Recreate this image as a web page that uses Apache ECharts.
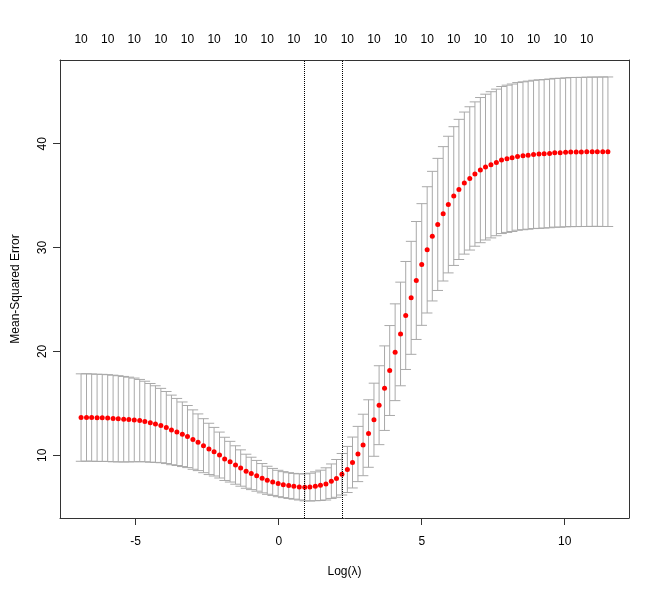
<!DOCTYPE html>
<html>
<head>
<meta charset="utf-8">
<script src="https://cdn.jsdelivr.net/npm/echarts@6/dist/echarts.min.js"></script>
<style>
  html,body{margin:0;padding:0;background:#fff;}
  #main{width:660px;height:593px;}
</style>
</head>
<body>
<div id="main"></div>
<script>
// log(lambda) grid, 100 lambdas
let logLambda=[-6.91,-6.72,-6.54,-6.35,-6.17,-5.98,-5.79,-5.61,-5.42,-5.24,
  -5.05,-4.86,-4.68,-4.49,-4.31,-4.12,-3.93,-3.75,-3.56,-3.37,
  -3.19,-3.00,-2.82,-2.63,-2.44,-2.26,-2.07,-1.89,-1.70,-1.51,
  -1.33,-1.14,-0.96,-0.77,-0.58,-0.40,-0.21,-0.02,0.16,0.35,
  0.53,0.72,0.91,1.09,1.28,1.46,1.65,1.84,2.02,2.21,
  2.40,2.58,2.77,2.95,3.14,3.33,3.51,3.70,3.88,4.07,
  4.26,4.44,4.63,4.81,5.00,5.19,5.37,5.56,5.75,5.93,
  6.12,6.30,6.49,6.68,6.86,7.05,7.23,7.42,7.61,7.79,
  7.98,8.16,8.35,8.54,8.72,8.91,9.10,9.28,9.47,9.65,
  9.84,10.03,10.21,10.40,10.58,10.77,10.96,11.14,11.33,11.51];
// mean cross-validated error
let cvm=[13.63,13.64,13.63,13.60,13.60,13.58,13.54,13.51,13.47,13.44,
  13.40,13.34,13.25,13.12,13.00,12.86,12.67,12.44,12.24,12.02,
  11.80,11.51,11.25,10.92,10.61,10.34,10.02,9.65,9.38,9.06,
  8.77,8.46,8.25,8.02,7.79,7.59,7.43,7.28,7.17,7.08,
  7.01,6.95,6.91,6.93,7.01,7.10,7.24,7.50,7.77,8.17,
  8.63,9.30,10.12,10.99,12.09,13.42,14.82,16.46,18.16,19.92,
  21.68,23.46,25.16,26.83,28.37,29.78,31.10,32.23,33.25,34.14,
  34.96,35.60,36.21,36.66,37.08,37.46,37.75,37.97,38.20,38.43,
  38.55,38.65,38.78,38.84,38.90,38.97,39.00,39.03,39.07,39.13,
  39.13,39.17,39.20,39.20,39.21,39.22,39.23,39.23,39.23,39.23];
// standard error of cvm
let cvsd=[4.21,4.21,4.20,4.20,4.19,4.18,4.17,4.15,4.12,4.08,
  4.03,3.96,3.88,3.79,3.69,3.58,3.47,3.35,3.23,3.11,
  2.99,2.86,2.73,2.60,2.47,2.34,2.21,2.08,1.96,1.85,
  1.75,1.64,1.56,1.48,1.41,1.35,1.30,1.27,1.25,1.24,
  1.24,1.26,1.30,1.34,1.39,1.46,1.55,1.66,1.82,2.00,
  2.22,2.45,2.66,2.96,3.25,3.52,3.80,4.07,4.33,4.66,
  4.99,5.20,5.44,5.68,5.86,6.08,6.24,6.36,6.47,6.58,
  6.68,6.75,6.84,6.90,6.95,6.99,7.02,7.04,7.06,7.08,
  7.09,7.10,7.11,7.12,7.13,7.14,7.15,7.15,7.16,7.16,
  7.17,7.17,7.18,7.18,7.18,7.19,7.19,7.19,7.20,7.20];
// number of nonzero coefficients
let nzero=[10,10,10,10,10,10,10,10,10,10,10,10,10,10,10,10,10,10,10,10,
  10,10,10,10,10,10,10,10,10,10,10,10,10,10,10,10,10,10,10,10,
  10,10,10,10,10,10,10,10,10,10,10,10,10,10,10,10,10,10,10,10,
  10,10,10,10,10,10,10,10,10,10,10,10,10,10,10,10,10,10,10,10,
  10,10,10,10,10,10,10,10,10,10,10,10,10,10,10,10,10,10,10,10];
let xTicks=[-5,0,5,10];
let yTicks=[10,20,30,40];

let cvup=cvm.map((v,i)=>v+cvsd[i]);
let cvlo=cvm.map((v,i)=>v-cvsd[i]);

// lambda.min and lambda.1se
let iMin=0;
cvm.forEach((v,i)=>{ if(v<cvm[iMin]) iMin=i; });
let thr=cvm[iMin]+cvsd[iMin];
let i1se=iMin;
cvm.forEach((v,i)=>{ if(v<=thr && logLambda[i]>logLambda[i1se]) i1se=i; });

// R style axis ranges (data range + 4%)
function padRange(lo,hi){
  let d=(hi-lo)*0.04;
  return [lo-d,hi+d];
}
let xr=padRange(Math.min(...logLambda),Math.max(...logLambda));
let yr=padRange(Math.min(...cvlo),Math.max(...cvup));
let barw=(Math.max(...logLambda)-Math.min(...logLambda))*0.01;

// top labels, R drops the ones that would overlap
let topVals=logLambda.filter((v,i)=>i%5==0);

let font='Liberation Sans, Arial, sans-serif';
let boxLine={show:true,onZero:false,lineStyle:{color:'#333',width:1}};
let tickLine={color:'#333',width:1};
let chart=echarts.init(document.getElementById('main'),null,{renderer:'canvas'});

let option={
  animation:false,
  backgroundColor:'#fff',
  textStyle:{fontFamily:font},
  grid:{left:60,right:31,top:60,bottom:75,show:false},
  xAxis:[{
    type:'value',
    position:'bottom',
    min:xr[0],
    max:xr[1],
    name:'Log(λ)',
    nameLocation:'middle',
    nameGap:48,
    nameTextStyle:{color:'#000',fontSize:12,fontFamily:font},
    axisLine:boxLine,
    axisTick:{show:true,inside:false,length:7,interval:0,lineStyle:tickLine,customValues:xTicks},
    axisLabel:{customValues:xTicks,margin:18,color:'#000',fontSize:12,fontFamily:font},
    splitLine:{show:false},
  },{
    type:'value',
    position:'top',
    min:xr[0],
    max:xr[1],
    axisLine:boxLine,
    axisTick:{show:false},
    axisLabel:{
      customValues:topVals,
      margin:14,
      color:'#000',
      fontSize:12,
      fontFamily:font,
      formatter:function(value){
        let k=logLambda.findIndex(v=>Math.abs(v-value)<1e-6);
        return k<0 ? '' : String(nzero[k]);
      }
    },
    splitLine:{show:false},
  }],
  yAxis:[{
    type:'value',
    position:'left',
    min:yr[0],
    max:yr[1],
    name:'Mean-Squared Error',
    nameLocation:'middle',
    nameGap:38,
    nameTextStyle:{color:'#000',fontSize:12,fontFamily:font},
    axisLine:boxLine,
    axisTick:{show:true,inside:false,length:7,interval:0,lineStyle:tickLine,customValues:yTicks},
    axisLabel:{customValues:yTicks,rotate:90,margin:11,color:'#000',fontSize:12,fontFamily:font},
    splitLine:{show:false},
  },{
    // right side of the box
    type:'value',
    position:'right',
    min:yr[0],
    max:yr[1],
    axisLine:boxLine,
    axisTick:{show:false},
    axisLabel:{show:false},
    splitLine:{show:false},
  }],
  series:[{
    // error bars, darkgrey
    type:'custom',
    xAxisIndex:0,
    yAxisIndex:0,
    data:logLambda.map((x,i)=>[x,cvup[i],cvlo[i]]),
    encode:{x:0,y:[1,2]},
    renderItem:function(params,api){
      let x=api.value(0);
      let top=api.coord([x,api.value(1)]);
      let bot=api.coord([x,api.value(2)]);
      let tl=api.coord([x-barw,api.value(1)]);
      let tr=api.coord([x+barw,api.value(1)]);
      let bl=api.coord([x-barw,api.value(2)]);
      let br=api.coord([x+barw,api.value(2)]);
      let style={stroke:'#a9a9a9',lineWidth:1};
      return {
        type:'group',
        children:[
          {type:'line',shape:{x1:top[0],y1:top[1],x2:bot[0],y2:bot[1]},style:style},
          {type:'line',shape:{x1:tl[0],y1:tl[1],x2:tr[0],y2:tr[1]},style:style},
          {type:'line',shape:{x1:bl[0],y1:bl[1],x2:br[0],y2:br[1]},style:style},
        ]
      };
    },
    silent:true,
  },{
    type:'scatter',
    xAxisIndex:0,
    yAxisIndex:0,
    data:logLambda.map((x,i)=>[x,cvm[i]]),
    symbol:'circle',
    symbolSize:5,
    itemStyle:{color:'#ff0000',opacity:1},
    silent:true,
    markLine:{
      silent:true,
      symbol:['none','none'],
      label:{show:false},
      lineStyle:{color:'#000',type:'dotted',width:1},
      data:[{xAxis:logLambda[iMin]},{xAxis:logLambda[i1se]}],
    }
  }]
};
chart.setOption(option);
</script>
</body>
</html>
